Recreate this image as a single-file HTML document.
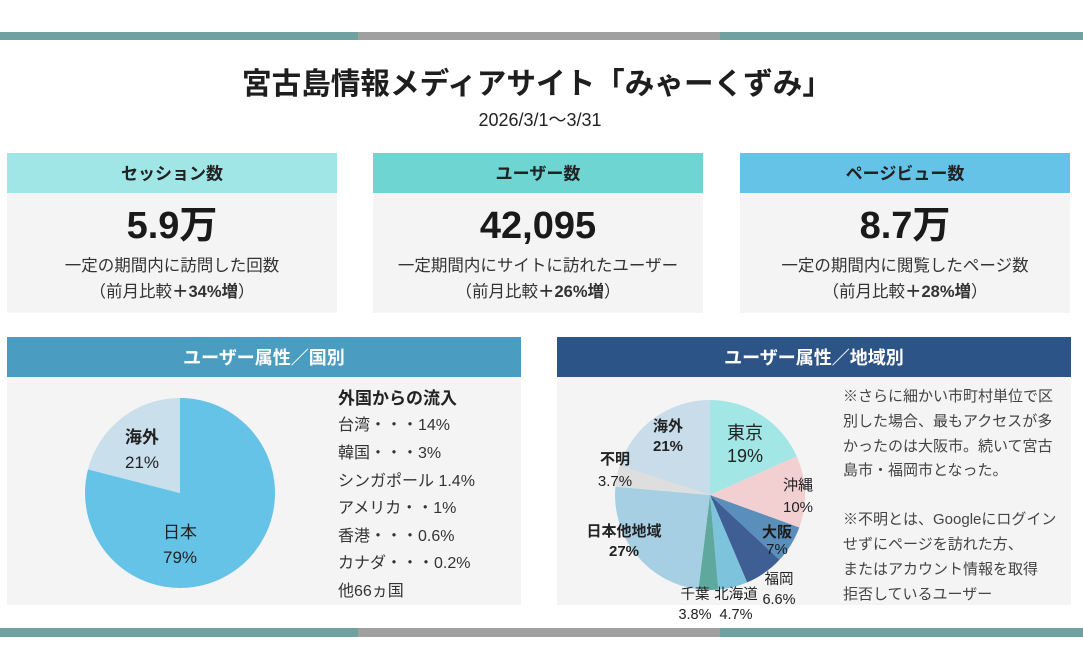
<!DOCTYPE html>
<html lang="ja">
<head>
<meta charset="utf-8">
<style>
  html,body{margin:0;padding:0;background:#ffffff;}
  body{width:1083px;height:657px;overflow:hidden;}
  svg{display:block;}
  text{font-family:"Liberation Sans","Noto Sans CJK JP",sans-serif;}
</style>
</head>
<body>
<svg width="1083" height="657" viewBox="0 0 1083 657" xmlns="http://www.w3.org/2000/svg">
  <rect x="0" y="0" width="1083" height="657" fill="#ffffff"/>

  <!-- top bar -->
  <rect x="0" y="32" width="358" height="8" fill="#70a1a1"/>
  <rect x="358" y="32" width="362" height="8" fill="#a0a0a0"/>
  <rect x="720" y="32" width="363" height="8" fill="#70a1a1"/>

  <!-- title -->
  <text x="537" y="94" text-anchor="middle" font-size="30" font-weight="bold" fill="#1e1e1e" textLength="590" lengthAdjust="spacingAndGlyphs">宮古島情報メディアサイト「みゃーくずみ」</text>
  <text x="540" y="126" text-anchor="middle" font-size="18" fill="#222">2026/3/1〜3/31</text>

  <!-- KPI card 1 -->
  <rect x="7" y="153" width="330" height="40" fill="#a0e6e6"/>
  <rect x="7" y="193" width="330" height="120" fill="#f4f4f4"/>
  <text x="172" y="179.5" text-anchor="middle" font-size="17" font-weight="bold" fill="#222">セッション数</text>
  <text x="172" y="238" text-anchor="middle" font-size="38" font-weight="bold" fill="#1a1a1a">5.9万</text>
  <text x="172" y="271" text-anchor="middle" font-size="16.5" fill="#333">一定の期間内に訪問した回数</text>
  <text x="172" y="297" text-anchor="middle" font-size="16.5" fill="#333">（前月比較<tspan font-weight="bold">＋34%増</tspan>）</text>

  <!-- KPI card 2 -->
  <rect x="373" y="153" width="330" height="40" fill="#6fd5d3"/>
  <rect x="373" y="193" width="330" height="120" fill="#f4f4f4"/>
  <text x="538" y="179.5" text-anchor="middle" font-size="17" font-weight="bold" fill="#222">ユーザー数</text>
  <text x="538" y="238" text-anchor="middle" font-size="38" font-weight="bold" fill="#1a1a1a">42,095</text>
  <text x="538" y="271" text-anchor="middle" font-size="16.5" fill="#333">一定期間内にサイトに訪れたユーザー</text>
  <text x="538" y="297" text-anchor="middle" font-size="16.5" fill="#333">（前月比較<tspan font-weight="bold">＋26%増</tspan>）</text>

  <!-- KPI card 3 -->
  <rect x="740" y="153" width="330" height="40" fill="#66c3e8"/>
  <rect x="740" y="193" width="330" height="120" fill="#f4f4f4"/>
  <text x="905" y="179.5" text-anchor="middle" font-size="17" font-weight="bold" fill="#222">ページビュー数</text>
  <text x="905" y="238" text-anchor="middle" font-size="38" font-weight="bold" fill="#1a1a1a">8.7万</text>
  <text x="905" y="271" text-anchor="middle" font-size="16.5" fill="#333">一定の期間内に閲覧したページ数</text>
  <text x="905" y="297" text-anchor="middle" font-size="16.5" fill="#333">（前月比較<tspan font-weight="bold">＋28%増</tspan>）</text>

  <!-- Left panel -->
  <rect x="7" y="337" width="514" height="40" fill="#4a9cc0"/>
  <rect x="7" y="377" width="514" height="228" fill="#f4f4f4"/>
  <text x="264" y="364" text-anchor="middle" font-size="18" font-weight="bold" fill="#ffffff">ユーザー属性／国別</text>

  <!-- left pie -->
  <path d="M180,493 L180,398 A95,95 0 1 1 88,469.4 Z" fill="#66c3e8"/>
  <path d="M180,493 L88,469.4 A95,95 0 0 1 180,398 Z" fill="#c9dfeb"/>
  <text x="142" y="443" text-anchor="middle" font-size="17" font-weight="bold" fill="#222">海外</text>
  <text x="142" y="468" text-anchor="middle" font-size="17" fill="#222">21%</text>
  <text x="180" y="538" text-anchor="middle" font-size="17" fill="#222">日本</text>
  <text x="180" y="563" text-anchor="middle" font-size="17" fill="#222">79%</text>

  <!-- left list -->
  <text x="338" y="404" font-size="17" font-weight="bold" fill="#222">外国からの流入</text>
  <text x="338" y="430" font-size="16" fill="#333">台湾・・・14%</text>
  <text x="338" y="458" font-size="16" fill="#333">韓国・・・3%</text>
  <text x="338" y="486" font-size="16" fill="#333">シンガポール 1.4%</text>
  <text x="338" y="513" font-size="16" fill="#333">アメリカ・・1%</text>
  <text x="338" y="541" font-size="16" fill="#333">香港・・・0.6%</text>
  <text x="338" y="568" font-size="16" fill="#333">カナダ・・・0.2%</text>
  <text x="338" y="596" font-size="16" fill="#333">他66ヵ国</text>

  <!-- Right panel -->
  <rect x="557" y="337" width="514" height="40" fill="#2d5487"/>
  <rect x="557" y="377" width="514" height="228" fill="#f4f4f4"/>
  <text x="814" y="364" text-anchor="middle" font-size="18" font-weight="bold" fill="#ffffff">ユーザー属性／地域別</text>

  <!-- right pie (center 710,495 r95) -->
  <path d="M710,495 L710,400 A95,95 0 0 1 796.8,456.4 Z" fill="#a3e6e6"/>
  <path d="M710,495 L796.8,456.4 A95,95 0 0 1 799.3,527.5 Z" fill="#f2d0d2"/>
  <path d="M710,495 L799.3,527.5 A95,95 0 0 1 779.5,559.8 Z" fill="#5b8fbb"/>
  <path d="M710,495 L779.5,559.8 A95,95 0 0 1 747.1,582.4 Z" fill="#3f5f94"/>
  <path d="M710,495 L747.1,582.4 A95,95 0 0 1 718.3,589.6 Z" fill="#7cc3db"/>
  <path d="M710,495 L718.3,589.6 A95,95 0 0 1 698.4,589.3 Z" fill="#5ea89e"/>
  <path d="M710,495 L698.4,589.3 A95,95 0 0 1 615.4,486.7 Z" fill="#a6cfe3"/>
  <path d="M710,495 L615.4,486.7 A95,95 0 0 1 619.6,465.6 Z" fill="#dedede"/>
  <path d="M710,495 L619.6,465.6 A95,95 0 0 1 710,400 Z" fill="#c8dcea"/>

  <!-- right pie labels -->
  <text x="745" y="439" text-anchor="middle" font-size="18" fill="#222">東京</text>
  <text x="745" y="462" text-anchor="middle" font-size="18" fill="#222">19%</text>
  <text x="798" y="490" text-anchor="middle" font-size="15" fill="#222">沖縄</text>
  <text x="798" y="512" text-anchor="middle" font-size="15" fill="#222">10%</text>
  <text x="777" y="537" text-anchor="middle" font-size="15" font-weight="bold" fill="#1a1a1a">大阪</text>
  <text x="777" y="554" text-anchor="middle" font-size="15" fill="#1a1a1a">7%</text>
  <text x="779" y="584" text-anchor="middle" font-size="14.5" fill="#222">福岡</text>
  <text x="779" y="604" text-anchor="middle" font-size="14.5" fill="#222">6.6%</text>
  <text x="736" y="599" text-anchor="middle" font-size="14.5" fill="#222">北海道</text>
  <text x="736" y="619" text-anchor="middle" font-size="14.5" fill="#222">4.7%</text>
  <text x="695" y="599" text-anchor="middle" font-size="14.5" fill="#222">千葉</text>
  <text x="695" y="619" text-anchor="middle" font-size="14.5" fill="#222">3.8%</text>
  <text x="624" y="536" text-anchor="middle" font-size="15" font-weight="bold" fill="#222">日本他地域</text>
  <text x="624" y="556" text-anchor="middle" font-size="15" font-weight="bold" fill="#222">27%</text>
  <text x="615" y="464" text-anchor="middle" font-size="15" font-weight="bold" fill="#222">不明</text>
  <text x="615" y="486" text-anchor="middle" font-size="15" fill="#222">3.7%</text>
  <text x="668" y="431" text-anchor="middle" font-size="15" font-weight="bold" fill="#222">海外</text>
  <text x="668" y="451" text-anchor="middle" font-size="15" font-weight="bold" fill="#222">21%</text>

  <!-- right notes -->
  <text x="843" y="401" font-size="15" fill="#444">※さらに細かい市町村単位で区</text>
  <text x="843" y="426" font-size="15" fill="#444">別した場合、最もアクセスが多</text>
  <text x="843" y="451" font-size="15" fill="#444">かったのは大阪市。続いて宮古</text>
  <text x="843" y="475" font-size="15" fill="#444">島市・福岡市となった。</text>
  <text x="843" y="524" font-size="15" fill="#444">※不明とは、Googleにログイン</text>
  <text x="843" y="549" font-size="15" fill="#444">せずにページを訪れた方、</text>
  <text x="843" y="574" font-size="15" fill="#444">またはアカウント情報を取得</text>
  <text x="843" y="599" font-size="15" fill="#444">拒否しているユーザー</text>

  <!-- bottom bar -->
  <rect x="0" y="628" width="358" height="9" fill="#70a1a1"/>
  <rect x="358" y="628" width="362" height="9" fill="#a0a0a0"/>
  <rect x="720" y="628" width="363" height="9" fill="#70a1a1"/>
</svg>
</body>
</html>
